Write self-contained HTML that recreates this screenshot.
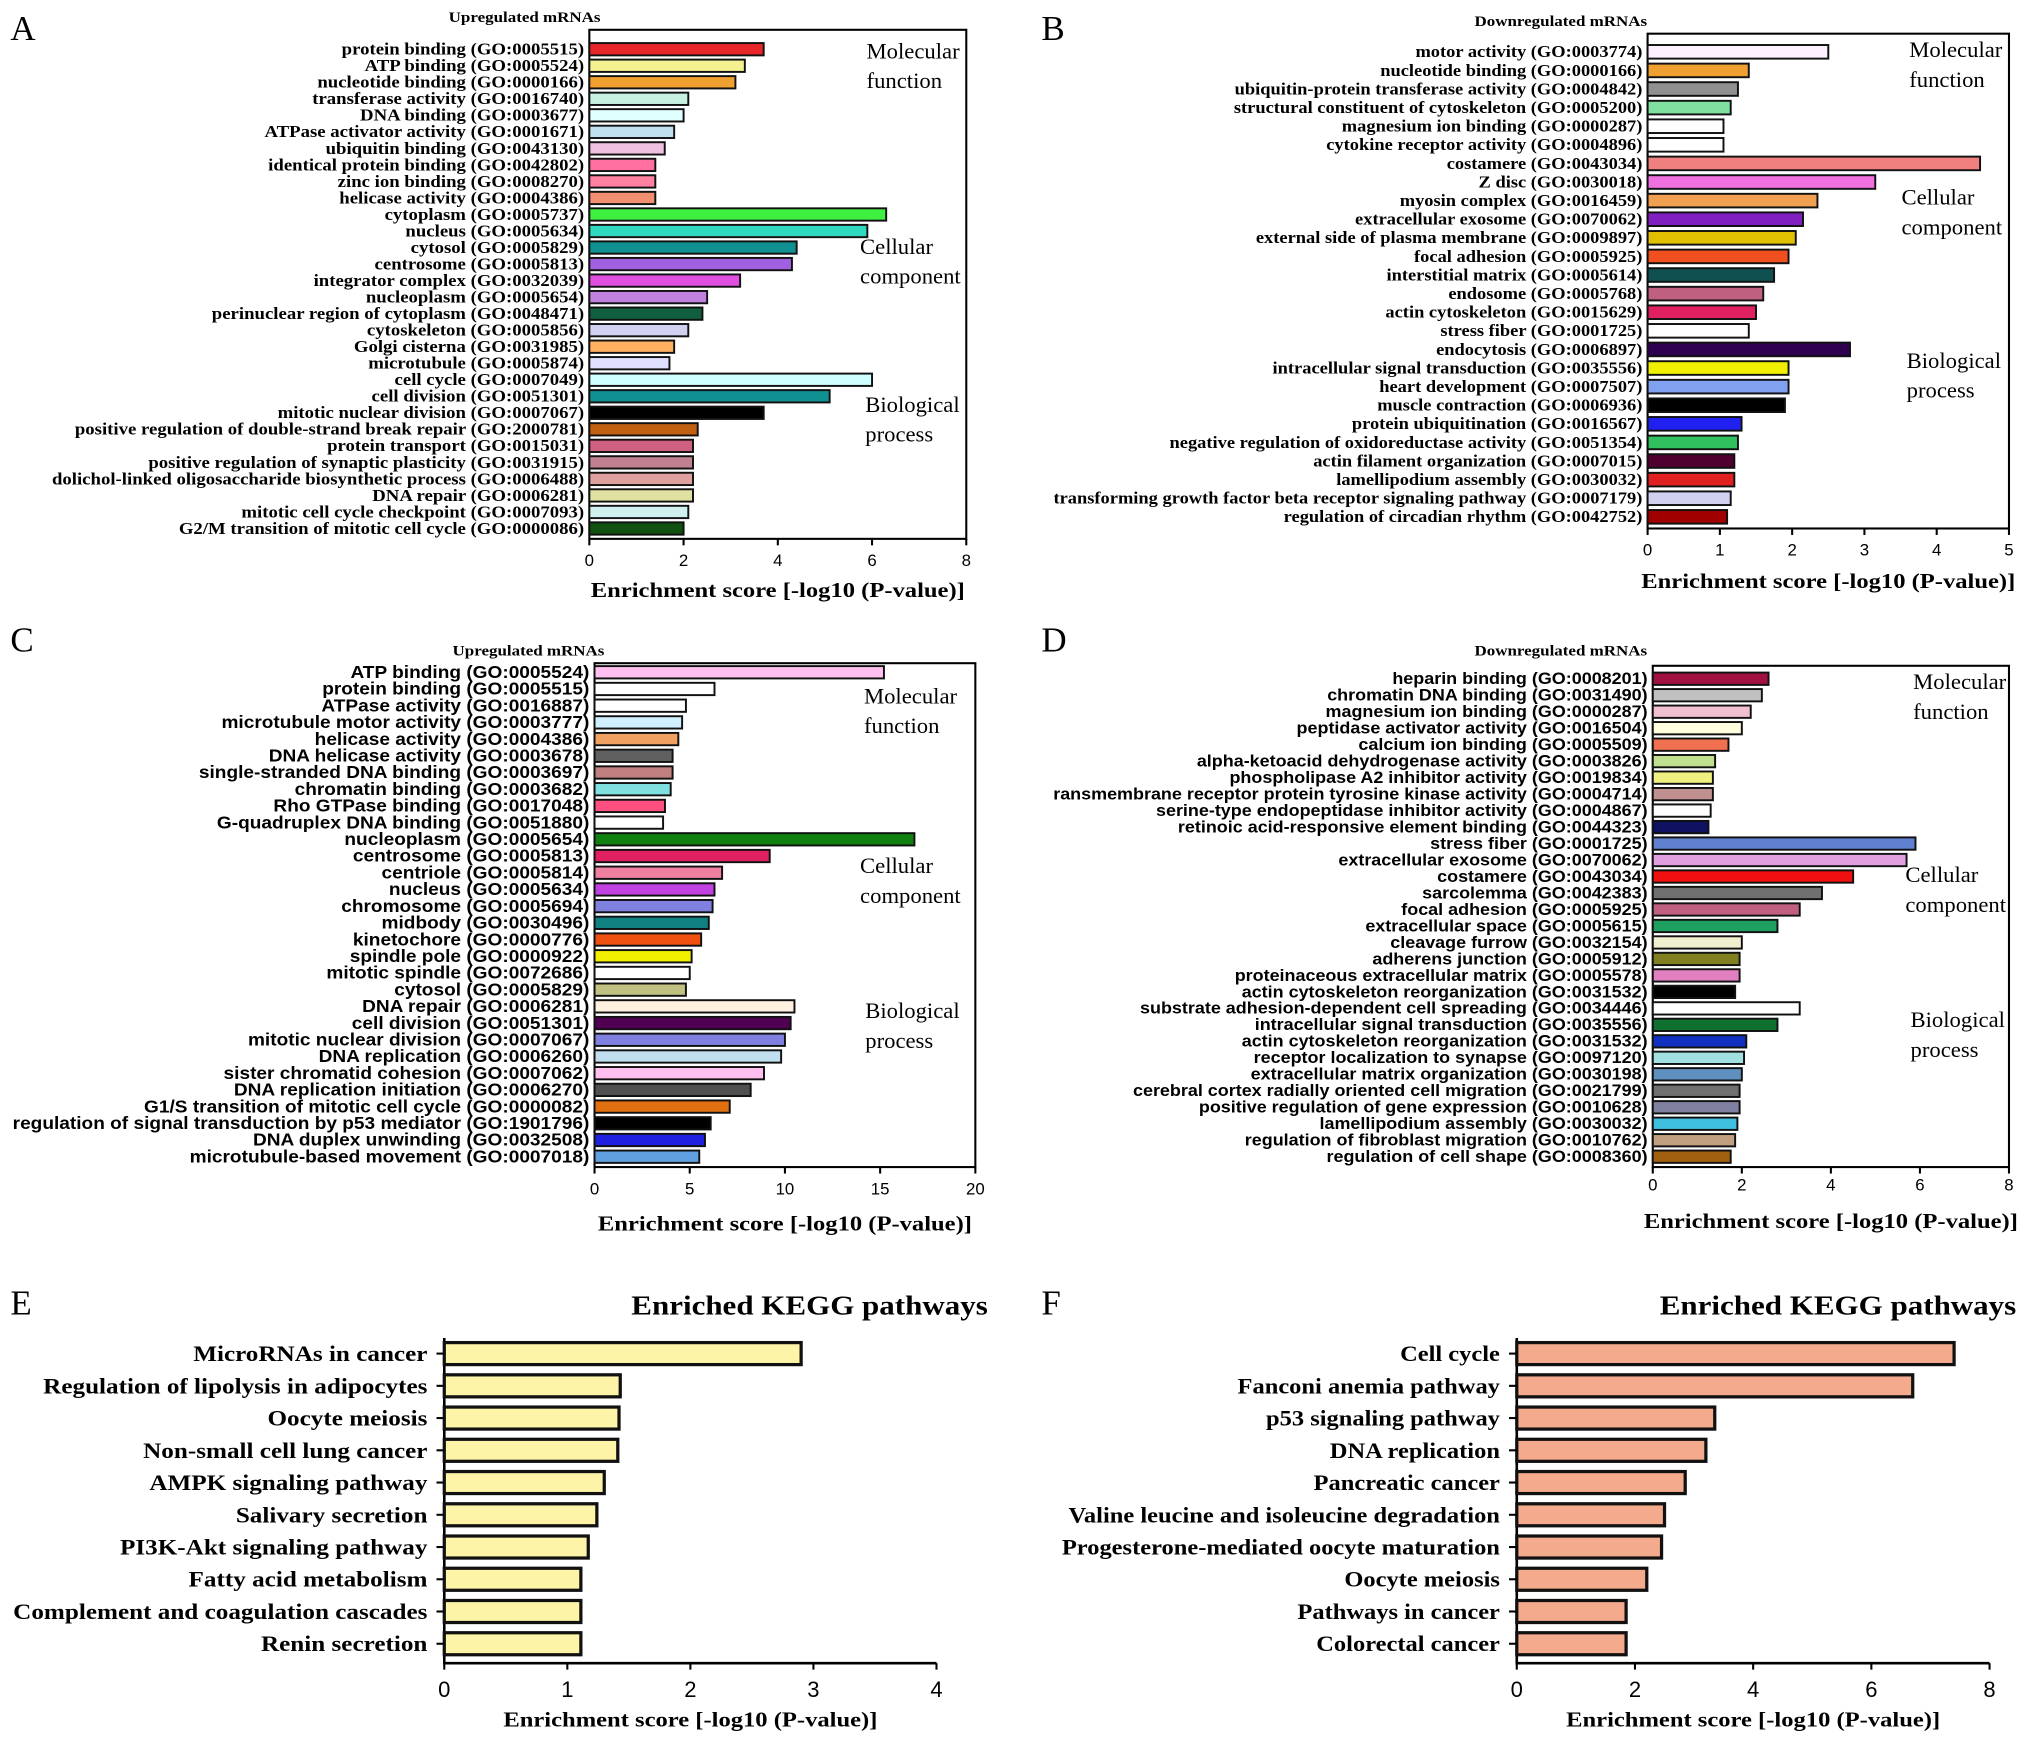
<!DOCTYPE html>
<html><head><meta charset="utf-8"><style>
html,body{margin:0;padding:0;background:#fff;}
svg{display:block;}
</style></head><body>
<svg id="chart" width="2031" height="1744" viewBox="0 0 1568 1346.4" preserveAspectRatio="none" xmlns="http://www.w3.org/2000/svg"></svg>
<script>
// ---- Panel A data ----
const labelsA = ["protein binding (GO:0005515)","ATP binding (GO:0005524)","nucleotide binding (GO:0000166)","transferase activity (GO:0016740)","DNA binding (GO:0003677)","ATPase activator activity (GO:0001671)","ubiquitin binding (GO:0043130)","identical protein binding (GO:0042802)","zinc ion binding (GO:0008270)","helicase activity (GO:0004386)","cytoplasm (GO:0005737)","nucleus (GO:0005634)","cytosol (GO:0005829)","centrosome (GO:0005813)","integrator complex (GO:0032039)","nucleoplasm (GO:0005654)","perinuclear region of cytoplasm (GO:0048471)","cytoskeleton (GO:0005856)","Golgi cisterna (GO:0031985)","microtubule (GO:0005874)","cell cycle (GO:0007049)","cell division (GO:0051301)","mitotic nuclear division (GO:0007067)","positive regulation of double-strand break repair (GO:2000781)","protein transport (GO:0015031)","positive regulation of synaptic plasticity (GO:0031915)","dolichol-linked oligosaccharide biosynthetic process (GO:0006488)","DNA repair (GO:0006281)","mitotic cell cycle checkpoint (GO:0007093)","G2/M transition of mitotic cell cycle (GO:0000086)"];
const valuesA = [3.7,3.3,3.1,2.1,2.0,1.8,1.6,1.4,1.4,1.4,6.3,5.9,4.4,4.3,3.2,2.5,2.4,2.1,1.8,1.7,6.0,5.1,3.7,2.3,2.2,2.2,2.2,2.2,2.1,2.0];
const colorsA = ["#e8262a","#f5f090","#f0a030","#c8f0e0","#e0ffff","#c0e0f0","#f0c0e0","#ff70a0","#ff80a0","#f09070","#40f040","#30d8c0","#109090","#a060e0","#e050e0","#c080e0","#106040","#d0d0f0","#ffb060","#e0e0ff","#d0ffff","#109090","#000000","#c06010","#d06080","#c08090","#e0a0a0","#e0e0a0","#d0f0f0","#105010"];
const ticksA = [0,2,4,6,8];
// ---- Panel B data ----
const labelsB = ["motor activity (GO:0003774)","nucleotide binding (GO:0000166)","ubiquitin-protein transferase activity (GO:0004842)","structural constituent of cytoskeleton (GO:0005200)","magnesium ion binding (GO:0000287)","cytokine receptor activity (GO:0004896)","costamere (GO:0043034)","Z disc (GO:0030018)","myosin complex (GO:0016459)","extracellular exosome (GO:0070062)","external side of plasma membrane (GO:0009897)","focal adhesion (GO:0005925)","interstitial matrix (GO:0005614)","endosome (GO:0005768)","actin cytoskeleton (GO:0015629)","stress fiber (GO:0001725)","endocytosis (GO:0006897)","intracellular signal transduction (GO:0035556)","heart development (GO:0007507)","muscle contraction (GO:0006936)","protein ubiquitination (GO:0016567)","negative regulation of oxidoreductase activity (GO:0051354)","actin filament organization (GO:0007015)","lamellipodium assembly (GO:0030032)","transforming growth factor beta receptor signaling pathway (GO:0007179)","regulation of circadian rhythm (GO:0042752)"];
const valuesB = [2.5,1.4,1.25,1.15,1.05,1.05,4.6,3.15,2.35,2.15,2.05,1.95,1.75,1.6,1.5,1.4,2.8,1.95,1.95,1.9,1.3,1.25,1.2,1.2,1.15,1.1];
const colorsB = ["#fff0ff","#f0a030","#909090","#80e0a0","#ffffff","#ffffff","#f08080","#f070e0","#f0a050","#8020c0","#e0c000","#f05020","#105050","#c06080","#e02060","#ffffff","#300050","#f0f000","#80a0f0","#000000","#2020f0","#30c060","#500030","#e02020","#d0d0f0","#a00000"];
const ticksB = [0,1,2,3,4,5];
// ---- Panel C data ----
const labelsC = ["ATP binding (GO:0005524)","protein binding (GO:0005515)","ATPase activity (GO:0016887)","microtubule motor activity (GO:0003777)","helicase activity (GO:0004386)","DNA helicase activity (GO:0003678)","single-stranded DNA binding (GO:0003697)","chromatin binding (GO:0003682)","Rho GTPase binding (GO:0017048)","G-quadruplex DNA binding (GO:0051880)","nucleoplasm (GO:0005654)","centrosome (GO:0005813)","centriole (GO:0005814)","nucleus (GO:0005634)","chromosome (GO:0005694)","midbody (GO:0030496)","kinetochore (GO:0000776)","spindle pole (GO:0000922)","mitotic spindle (GO:0072686)","cytosol (GO:0005829)","DNA repair (GO:0006281)","cell division (GO:0051301)","mitotic nuclear division (GO:0007067)","DNA replication (GO:0006260)","sister chromatid cohesion (GO:0007062)","DNA replication initiation (GO:0006270)","G1/S transition of mitotic cell cycle (GO:0000082)","regulation of signal transduction by p53 mediator (GO:1901796)","DNA duplex unwinding (GO:0032508)","microtubule-based movement (GO:0007018)"];
const valuesC = [15.2,6.3,4.8,4.6,4.4,4.1,4.1,4.0,3.7,3.6,16.8,9.2,6.7,6.3,6.2,6.0,5.6,5.1,5.0,4.8,10.5,10.3,10.0,9.8,8.9,8.2,7.1,6.1,5.8,5.5];
const colorsC = ["#ffc0f0","#ffffff","#ffffff","#d0f0ff","#f0a060","#606060","#c08080","#80e0e0","#ff5080","#ffffff","#108010","#e02060","#f080a0","#c040e0","#8080e0","#108080","#f05010","#f0f000","#ffffff","#c0c080","#fff0e0","#500050","#8080e0","#c0e0f0","#ffc0f0","#505050","#e07010","#000000","#2020e0","#60a0e0"];
const ticksC = [0,5,10,15,20];
// ---- Panel D data ----
const labelsD = ["heparin binding (GO:0008201)","chromatin DNA binding (GO:0031490)","magnesium ion binding (GO:0000287)","peptidase activator activity (GO:0016504)","calcium ion binding (GO:0005509)","alpha-ketoacid dehydrogenase activity (GO:0003826)","phospholipase A2 inhibitor activity (GO:0019834)","ransmembrane receptor protein tyrosine kinase activity (GO:0004714)","serine-type endopeptidase inhibitor activity (GO:0004867)","retinoic acid-responsive element binding (GO:0044323)","stress fiber (GO:0001725)","extracellular exosome (GO:0070062)","costamere (GO:0043034)","sarcolemma (GO:0042383)","focal adhesion (GO:0005925)","extracellular space (GO:0005615)","cleavage furrow (GO:0032154)","adherens junction (GO:0005912)","proteinaceous extracellular matrix (GO:0005578)","actin cytoskeleton reorganization (GO:0031532)","substrate adhesion-dependent cell spreading (GO:0034446)","intracellular signal transduction (GO:0035556)","actin cytoskeleton reorganization (GO:0031532)","receptor localization to synapse (GO:0097120)","extracellular matrix organization (GO:0030198)","cerebral cortex radially oriented cell migration (GO:0021799)","positive regulation of gene expression (GO:0010628)","lamellipodium assembly (GO:0030032)","regulation of fibroblast migration (GO:0010762)","regulation of cell shape (GO:0008360)"];
const valuesD = [2.6,2.45,2.2,2.0,1.7,1.4,1.35,1.35,1.3,1.25,5.9,5.7,4.5,3.8,3.3,2.8,2.0,1.95,1.95,1.85,3.3,2.8,2.1,2.05,2.0,1.95,1.95,1.9,1.85,1.75];
const colorsD = ["#a01040","#c0c0c0","#f0c0d0","#ffffe0","#f07050","#c0e090","#f0f080","#c09090","#ffffff","#101060","#6080d0","#e0a0e0","#f01010","#707070","#c06080","#20a060","#f0f0d0","#808020","#e080c0","#000000","#ffffff","#107030","#1030c0","#a0e0e0","#6090c0","#707070","#8080a0","#40c0e0","#c0a080","#a06010"];
const ticksD = [0,2,4,6,8];
// ---- Panel E data ----
const labelsE = ["MicroRNAs in cancer","Regulation of lipolysis in adipocytes","Oocyte meiosis","Non-small cell lung cancer","AMPK signaling pathway","Salivary secretion","PI3K-Akt signaling pathway","Fatty acid metabolism","Complement and coagulation cascades","Renin secretion"];
const valuesE = [2.9,1.43,1.42,1.41,1.3,1.24,1.17,1.11,1.11,1.11];
const ticksE = [0,1,2,3,4];
// ---- Panel F data ----
const labelsF = ["Cell cycle","Fanconi anemia pathway","p53 signaling pathway","DNA replication","Pancreatic cancer","Valine leucine and isoleucine degradation","Progesterone-mediated oocyte maturation","Oocyte meiosis","Pathways in cancer","Colorectal cancer"];
const valuesF = [7.4,6.7,3.35,3.2,2.85,2.5,2.45,2.2,1.85,1.85];
const ticksF = [0,2,4,6,8];

const svg = document.getElementById('chart');
const NS = 'http://www.w3.org/2000/svg';
function mk(tag, attrs, parent){
  const e = document.createElementNS(NS, tag);
  for (const k in attrs) e.setAttribute(k, attrs[k]);
  (parent||svg).appendChild(e);
  return e;
}
function txt(s, attrs, parent){ const t = mk('text', attrs, parent); t.textContent = s; return t; }
function stretch(t, f){
  const w = t.getComputedTextLength();
  if (w > 0){ t.setAttribute('textLength', (w*f).toFixed(2)); t.setAttribute('lengthAdjust', 'spacingAndGlyphs'); }
}

function panel(p){
  const g = mk('g', {});
  
  
  const maxT = p.ticks[p.ticks.length-1];
  const xs = v => p.x0 + (v / maxT) * (p.x1 - p.x0);
  const n = p.labels.length;
  const step = (p.yLast - p.yFirst) / (n - 1);
  const ys = i => p.yFirst + i * step;
  const L = txt(p.letter, {x:p.letterX, y:p.letterY, 'font-family':'"Liberation Serif", serif', 'font-size':27}, g);
  
  
  if (p.title){
    const t = txt(p.title, {x:p.titleX, y:p.titleY, 'text-anchor':'middle', 'font-family':'"Liberation Serif", serif', 'font-weight':'bold', 'font-size':p.titleSize}, g);
    
    
    stretch(t, 1.14);
  }
  if (p.box){
    const r = mk('rect', {x:p.x0, y:p.top, width:p.x1-p.x0, height:p.bottom-p.top, fill:'none', stroke:'#000', 'stroke-width':1.6}, g);
    
    
  } else {
    const a = mk('path', {d:`M${p.x0},${p.top} L${p.x0},${p.bottom} L${p.x1},${p.bottom}`, fill:'none', stroke:'#000', 'stroke-width':2}, g);
    
    
  }
  for (let i=0;i<n;i++){
    const y = ys(i);
    const b = mk('rect', {x:p.x0, y:y - p.barH/2, width:Math.max(0, xs(p.values[i]) - p.x0), height:p.barH, fill:p.colors ? p.colors[i] : p.color, stroke:'#111', 'stroke-width':p.barStroke}, g);
    
    
    if (p.ytick){
      mk('line', {x1:p.x0-6, x2:p.x0, y1:y, y2:y, stroke:'#000', 'stroke-width':1.6}, g);
    }
    const lt = txt(p.labels[i], {x:p.x0 - p.labelGap, y:y + p.labelSize*0.33, 'text-anchor':'end', 'font-family':p.labelFont, 'font-weight':'bold', 'font-size':p.labelSize}, g);
    
    
    stretch(lt, p.labelStretch);
  }
  for (const t of p.ticks){
    const x = xs(t);
    mk('line', {x1:x, x2:x, y1:p.bottom, y2:p.bottom+5, stroke:'#000', 'stroke-width':1.6}, g);
    const tl = txt(String(t), {x:x, y:p.tickY, 'text-anchor':'middle', 'font-family':'"Liberation Sans", sans-serif', 'font-size':p.tickSize}, g);
    
    
  }
  const xt = txt('Enrichment score [-log10 (P-value)]', {x:(p.x0+p.x1)/2, y:p.axTitleY, 'text-anchor':'middle', 'font-family':'"Liberation Serif", serif', 'font-weight':'bold', 'font-size':p.axTitleSize}, g);
  
  
  stretch(xt, 1.15);
  if (p.groups){
    for (const gr of p.groups){
      const a = txt(gr[0], {x:gr[2], y:gr[3], 'font-family':'"Liberation Serif", serif', 'font-size':17.5}, g);
      
      
      const b2 = txt(gr[1], {x:gr[2], y:gr[3]+23, 'font-family':'"Liberation Serif", serif', 'font-size':17.5}, g);
      
      
    }
  }
}
const serif = '"Liberation Serif", serif', sans = '"Liberation Sans", sans-serif';
panel({id:'a', letter:'A', letterX:8, letterY:31, title:'Upregulated mRNAs', titleX:405, titleY:17, titleSize:11.5,
  labels:labelsA, values:valuesA, colors:colorsA, ticks:ticksA, x0:455, x1:746, top:23, bottom:416, yFirst:38, yLast:408, barH:9.5, barStroke:1.5,
  labelFont:serif, labelSize:12.6, labelStretch:1.15, labelGap:4, box:true, tickY:437, tickSize:13, axTitleY:461, axTitleSize:16.5,
  groups:[['Molecular','function',669,45],['Cellular','component',664,196],['Biological','process',668,318]]});
panel({id:'b', letter:'B', letterX:804, letterY:31, title:'Downregulated mRNAs', titleX:1205, titleY:20, titleSize:11.5,
  labels:labelsB, values:valuesB, colors:colorsB, ticks:ticksB, x0:1272, x1:1551, top:26, bottom:408, yFirst:40, yLast:399, barH:10.5, barStroke:1.5,
  labelFont:serif, labelSize:12.6, labelStretch:1.13, labelGap:4, box:true, tickY:429, tickSize:13, axTitleY:454, axTitleSize:16.5,
  groups:[['Molecular','function',1474,44],['Cellular','component',1468,158],['Biological','process',1472,284]]});
panel({id:'c', letter:'C', letterX:8, letterY:503, title:'Upregulated mRNAs', titleX:408, titleY:506, titleSize:11.5,
  labels:labelsC, values:valuesC, colors:colorsC, ticks:ticksC, x0:459, x1:753, top:512, bottom:901, yFirst:519, yLast:893, barH:9.5, barStroke:1.5,
  labelFont:sans, labelSize:13.4, labelStretch:1.1, labelGap:4, box:true, tickY:922, tickSize:13, axTitleY:950, axTitleSize:16.5,
  groups:[['Molecular','function',667,543],['Cellular','component',664,674],['Biological','process',668,786]]});
panel({id:'d', letter:'D', letterX:804, letterY:503, title:'Downregulated mRNAs', titleX:1205, titleY:506, titleSize:11.5,
  labels:labelsD, values:valuesD, colors:colorsD, ticks:ticksD, x0:1276, x1:1551, top:514, bottom:901, yFirst:524, yLast:893, barH:9.5, barStroke:1.5,
  labelFont:sans, labelSize:12.6, labelStretch:1.1, labelGap:4, box:true, tickY:919, tickSize:13, axTitleY:948, axTitleSize:16.5,
  groups:[['Molecular','function',1477,532],['Cellular','component',1471,681],['Biological','process',1475,793]]});
panel({id:'e', letter:'E', letterX:8, letterY:1015, title:'Enriched KEGG pathways', titleX:625, titleY:1015, titleSize:21,
  labels:labelsE, values:valuesE, color:'#fdf4a8', ticks:ticksE, x0:343, x1:723, top:1033, bottom:1284, yFirst:1045, yLast:1269, barH:17, barStroke:2.5,
  labelFont:serif, labelSize:17.5, labelStretch:1.11, labelGap:13, box:false, ytick:true, tickY:1310, tickSize:17, axTitleY:1333, axTitleSize:16.5});
panel({id:'f', letter:'F', letterX:804, letterY:1015, title:'Enriched KEGG pathways', titleX:1419, titleY:1015, titleSize:21,
  labels:labelsF, values:valuesF, color:'#f4aa8c', ticks:ticksF, x0:1171, x1:1536, top:1033, bottom:1284, yFirst:1045, yLast:1269, barH:17, barStroke:2.5,
  labelFont:serif, labelSize:17.5, labelStretch:1.08, labelGap:13, box:false, ytick:true, tickY:1310, tickSize:17, axTitleY:1333, axTitleSize:16.5});
</script>
</body></html>
